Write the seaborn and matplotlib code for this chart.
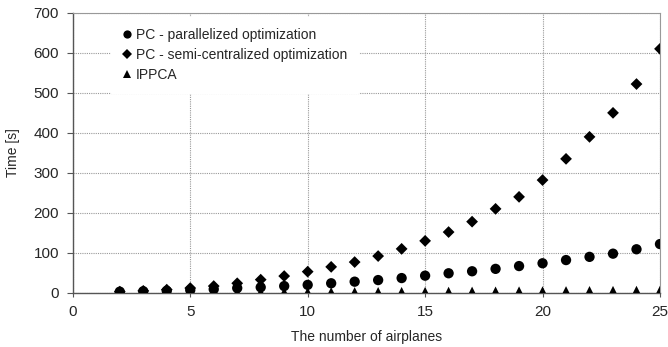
import pandas as pd
import matplotlib.pyplot as plt
import seaborn as sns

# Data
airplanes = list(range(2, 26))
pc_parallel = [3, 4, 5, 7, 9, 12, 14, 17, 20, 24, 28, 32, 37, 43, 49, 54, 60, 67, 74, 82, 90, 98, 109, 122]
pc_semi = [3, 5, 8, 12, 17, 24, 33, 42, 53, 65, 77, 92, 110, 130, 152, 178, 210, 240, 282, 335, 390, 450, 522, 610]
ippca = [0.5, 0.6, 0.8, 1, 1.2, 1.4, 1.6, 1.8, 2, 2.2, 2.4, 2.6, 2.8, 3, 3.3, 3.6, 3.9, 4.2, 4.5, 4.8, 5.1, 5.4, 5.7, 6]

labels = ["PC - parallelized optimization", "PC - semi-centralized optimization", "IPPCA"]

df = pd.DataFrame({
    "n": airplanes * 3,
    "time": pc_parallel + pc_semi + ippca,
    "method": [labels[0]] * len(airplanes) + [labels[1]] * len(airplanes) + [labels[2]] * len(airplanes),
})

sns.set_style("white")
plt.rcParams["font.family"] = ["Liberation Sans", "DejaVu Sans"]

fig = plt.figure(figsize=(6.68, 3.47), dpi=100)
ax = fig.add_axes([0.109, 0.156, 0.879, 0.807])

sns.scatterplot(data=df, x="n", y="time", hue="method", style="method", size="method",
                palette=["black"] * 3,
                markers={labels[0]: "o", labels[1]: "D", labels[2]: "^"},
                sizes={labels[0]: 55, labels[1]: 36, labels[2]: 48},
                edgecolor="black", linewidth=0, ax=ax, zorder=3)

ax.set_xlim(0, 25)
ax.set_ylim(0, 700)
ax.set_xticks([0, 5, 10, 15, 20, 25])
ax.set_yticks(range(0, 701, 100))
ax.grid(True, linestyle=(0, (1, 1)), color="#999999", linewidth=0.8)
for side in ["top", "right"]:
    ax.spines[side].set_color("#999999")
    ax.spines[side].set_linewidth(0.8)
for side in ["left", "bottom"]:
    ax.spines[side].set_color("#555555")
    ax.spines[side].set_linewidth(1.0)
ax.tick_params(axis="y", left=True, length=4, color="#555555", labelsize=11, pad=6)
ax.tick_params(axis="x", bottom=True, length=3, color="#555555", labelsize=11, pad=6)

ax.set_xlabel("The number of airplanes", fontsize=10, labelpad=8)
ax.set_ylabel("Time [s]", fontsize=10, labelpad=10)

leg = ax.legend(loc="upper left", bbox_to_anchor=(0.06, 0.995), frameon=True, fontsize=10,
                handlelength=0.8, handletextpad=0.2, labelspacing=0.42, borderpad=0.5,
                markerscale=0.8)
leg.get_frame().set_edgecolor("white")
leg.get_frame().set_facecolor("white")
leg.get_frame().set_alpha(1)
leg.get_frame().set_boxstyle("square")
leg.set_zorder(5)

fig.savefig("out.png", dpi=100)
